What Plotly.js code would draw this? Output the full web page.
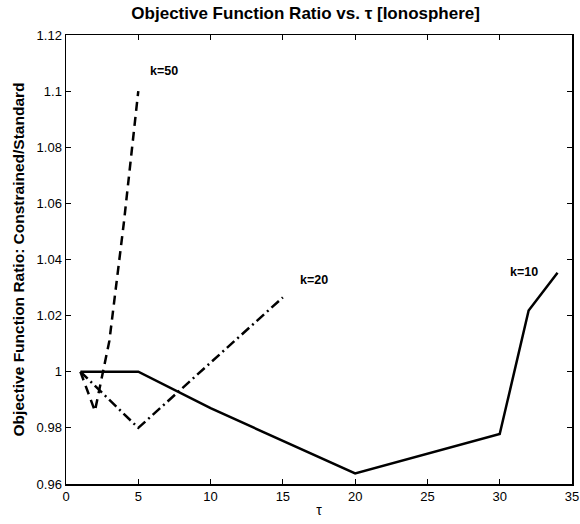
<!DOCTYPE html>
<html>
<head>
<meta charset="utf-8">
<script src="https://cdn.plot.ly/plotly-3.0.1.min.js"></script>
<style>html,body{margin:0;padding:0;background:#fff;}#chart{width:580px;height:524px;}</style>
</head>
<body>
<div id="chart"></div>
<script>
// Data
const tauK10 = [1, 5, 10, 20, 30, 32, 34];
const ratioK10 = [1.0, 1.0, 0.987, 0.9638, 0.9778, 1.0218, 1.0353];
const tauK20 = [1, 5, 15];
const ratioK20 = [1.0, 0.98, 1.0265];
const tauK50 = [1, 2, 3, 4, 5];
const ratioK50 = [1.0, 0.986, 1.011, 1.053, 1.100];
const seriesLabels = ['k=10', 'k=20', 'k=50'];
const labelX = [30.6, 16.05, 5.7];
const labelY = [1.0355, 1.0327, 1.1073];
const xTicks = [0, 5, 10, 15, 20, 25, 30, 35];
const yTicks = [0.96, 0.98, 1.0, 1.02, 1.04, 1.06, 1.08, 1.1, 1.12];
const yTickText = ['0.96', '0.98', '1', '1.02', '1.04', '1.06', '1.08', '1.1', '1.12'];

const FONT = 'Liberation Sans, Arial, Helvetica, sans-serif';

const traces = [
  {x: tauK10, y: ratioK10, mode: 'lines', line: {color: '#000', width: 2.5, dash: 'solid'}},
  {x: tauK20, y: ratioK20, mode: 'lines', line: {color: '#000', width: 2.5, dash: '10px,4px,2px,4px'}},
  {x: tauK50, y: ratioK50, mode: 'lines', line: {color: '#000', width: 2.5, dash: '9px,6px'}}
];

const annotations = seriesLabels.map((t, i) => ({
  x: labelX[i], y: labelY[i], xref: 'x', yref: 'y', text: '<b>' + t + '</b>', showarrow: false,
  xanchor: 'left', yanchor: 'middle',
  font: {family: FONT, size: 12.5, color: '#000'}
}));
annotations.push({
  xref: 'paper', yref: 'paper', x: -0.093, y: 0.5, xanchor: 'center', yanchor: 'middle',
  textangle: -90, showarrow: false,
  text: '<b>Objective Function Ratio: Constrained/Standard</b>',
  font: {family: FONT, size: 15.5, color: '#000'}
});

const axisCommon = {
  showgrid: false, zeroline: false, showline: true, linecolor: '#000', linewidth: 1.5,
  mirror: 'allticks', ticks: 'inside', ticklen: 5, tickwidth: 1, tickcolor: '#000',
  tickfont: {family: FONT, size: 13, color: '#000'}
};

const layout = {
  width: 580, height: 524,
  paper_bgcolor: '#fff', plot_bgcolor: '#fff',
  showlegend: false,
  margin: {l: 66, r: 8, t: 35, b: 40},
  title: {text: '<b>Objective Function Ratio vs. τ [Ionosphere]</b>', x: 0.527, xanchor: 'center', y: 0.975, yanchor: 'middle',
          font: {family: FONT, size: 17, color: '#000'}},
  xaxis: Object.assign({}, axisCommon, {
    range: [0, 35], tickvals: xTicks, ticktext: xTicks.map(String),
    title: {text: 'τ', standoff: 2, font: {family: FONT, size: 14, color: '#000'}}
  }),
  yaxis: Object.assign({}, axisCommon, {
    range: [0.96, 1.12], tickvals: yTicks, ticktext: yTickText
  }),
  annotations: annotations
};

Plotly.newPlot('chart', traces, layout, {displayModeBar: false, staticPlot: true});
</script>
</body>
</html>
